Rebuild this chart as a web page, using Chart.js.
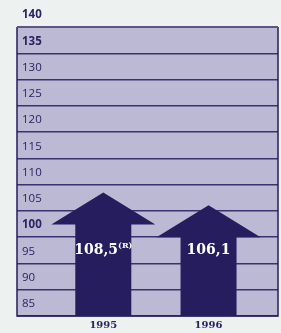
<!DOCTYPE html>
<html>
<head>
<meta charset="utf-8">
<script src="https://cdn.jsdelivr.net/npm/chart.js@4/dist/chart.umd.min.js"></script>
<style>
html,body{margin:0;padding:0;background:#edf1f0;}
#wrap{width:281px;height:333px;}
</style>
</head>
<body>
<div id="wrap"><canvas id="c" width="281" height="333"></canvas></div>
<script>
const categories = ['1995', '1996'];
const values = [108.5, 106.1];
const valueLabels = ['108,5', '106,1'];
const valueNotes = ['(R)', ''];
const yTicks = [85, 90, 95, 100, 105, 110, 115, 120, 125, 130, 135, 140];
const boldTicks = [100, 135, 140];

const NAVY = '#261d5e';
const GRID = '#3a3270';
const FILL = '#bcb9d4';
const TEXT = '#2b2462';

const framePlugin = {
  id: 'frame',
  beforeDraw(chart) {
    const {ctx, chartArea: a} = chart;
    ctx.save();
    ctx.fillStyle = '#edf1f0';
    ctx.fillRect(0, 0, chart.width, chart.height);
    ctx.fillStyle = FILL;
    ctx.fillRect(a.left, a.top, a.right - a.left, a.bottom - a.top);
    ctx.restore();
  },
  afterDatasetsDraw(chart) {
    const {ctx, chartArea: a} = chart;
    const meta = chart.getDatasetMeta(0);
    const yScale = chart.scales.y;
    ctx.save();
    meta.data.forEach((el, i) => {
      const x = el.x, top = el.y, w = el.width;
      const base = Math.min(el.base, a.bottom);
      const headH = 32, headHalf = 52;
      ctx.fillStyle = NAVY;
      ctx.beginPath();
      ctx.moveTo(x - w / 2, base);
      ctx.lineTo(x - w / 2, top + headH);
      ctx.lineTo(x - headHalf, top + headH);
      ctx.lineTo(x, top);
      ctx.lineTo(x + headHalf, top + headH);
      ctx.lineTo(x + w / 2, top + headH);
      ctx.lineTo(x + w / 2, base);
      ctx.closePath();
      ctx.fill();
      const ly = yScale.getPixelForValue(96.8);
      ctx.fillStyle = '#ffffff';
      ctx.textBaseline = 'alphabetic';
      ctx.textAlign = 'left';
      const main = valueLabels[i];
      const note = valueNotes[i];
      const mainFont = 'bold 14px "DejaVu Serif", serif';
      const noteFont = 'bold 8px "DejaVu Serif", serif';
      ctx.font = mainFont;
      const mw = ctx.measureText(main).width;
      ctx.font = noteFont;
      const nw = note ? ctx.measureText(note).width : 0;
      const sx = x - (mw + nw) / 2;
      ctx.font = mainFont;
      ctx.fillText(main, sx, ly);
      if (note) {
        ctx.font = noteFont;
        ctx.fillText(note, sx + mw, ly - 6);
      }
    });
    ctx.textAlign = 'left';
    ctx.textBaseline = 'middle';
    ctx.fillStyle = TEXT;
    yTicks.forEach(v => {
      const y = yScale.getPixelForValue(v);
      ctx.font = (boldTicks.includes(v) ? 'bold ' : '') + '11.5px "Open Sans", sans-serif';
      ctx.fillText(String(v), a.left + 5, y - 12);
    });
    ctx.strokeStyle = NAVY;
    ctx.lineWidth = 1.5;
    ctx.beginPath();
    ctx.moveTo(a.left, a.top);
    ctx.lineTo(a.left, a.bottom);
    ctx.lineTo(a.right, a.bottom);
    ctx.lineTo(a.right, a.top);
    ctx.stroke();
    ctx.strokeStyle = '#5a5582';
    ctx.lineWidth = 2;
    ctx.beginPath();
    ctx.moveTo(a.left, a.top);
    ctx.lineTo(a.right, a.top);
    ctx.stroke();
    ctx.restore();
  }
};

new Chart(document.getElementById('c'), {
  type: 'bar',
  data: {
    datasets: [{
      data: values.map((v, i) => ({x: i + 1, y: v})),
      backgroundColor: 'rgba(0,0,0,0)',
      borderWidth: 0,
      barThickness: 56
    }]
  },
  options: {
    responsive: false,
    animation: false,
    devicePixelRatio: 1,
    layout: {padding: {left: 17, right: 3, top: 27, bottom: 0}},
    plugins: {legend: {display: false}, tooltip: {enabled: false}},
    scales: {
      x: {
        type: 'linear',
        min: 0.18,
        max: 2.66,
        offset: false,
        afterBuildTicks: s => { s.ticks = categories.map((c, i) => ({value: i + 1})); },
        afterFit: s => { s.height = 17; },
        grid: {display: false, drawTicks: false, offset: false},
        border: {display: false},
        ticks: {
          callback: (v) => categories[v - 1] || '',
          font: {family: '"DejaVu Serif", serif', size: 10, weight: 'bold'},
          color: TEXT,
          padding: 3,
          maxRotation: 0,
          autoSkip: false
        }
      },
      y: {
        min: 85,
        max: 140,
        afterBuildTicks: s => { s.ticks = yTicks.map(v => ({value: v})); },
        afterFit: s => { s.width = 0; },
        grid: {color: GRID, lineWidth: 1.5, drawTicks: false},
        border: {display: false},
        ticks: {display: false}
      }
    }
  },
  plugins: [framePlugin]
});
</script>
</body>
</html>
